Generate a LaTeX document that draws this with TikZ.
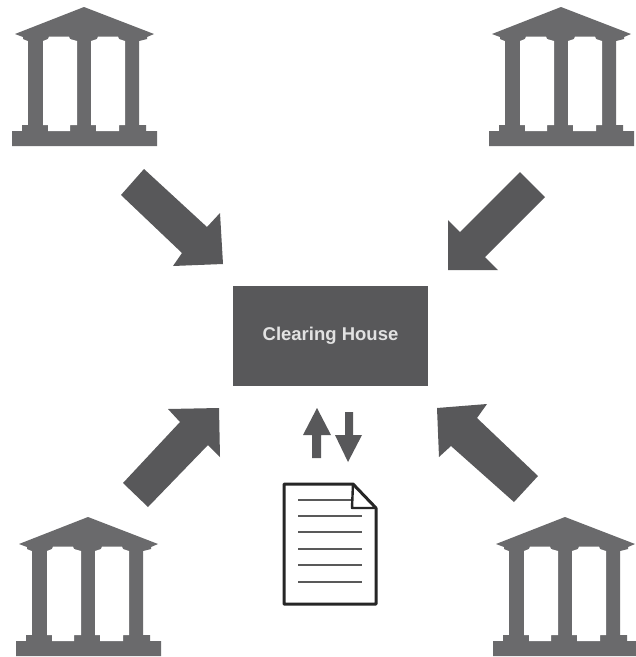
\documentclass[tikz,border=0pt]{standalone}
\usepackage{fontspec}
\setmainfont{Liberation Sans}
\definecolor{bankgray}{HTML}{6A6A6C}
\definecolor{arrowgray}{HTML}{58585A}
\definecolor{textlight}{HTML}{E2E2E2}
\tikzset{
  bankfill/.style={fill=bankgray,draw=none},
  bigarrow/.style={fill=arrowgray,draw=none},
}
\newcommand{\bankat}[2]{%
  \begin{scope}[shift={(#1,#2)}]
    \path[bankfill] (84,7) -- (154,34) -- (147,37) -- (147,39) -- (139,41) -- (139,125)
      -- (146,125) -- (146,131) -- (157,131) -- (157,146) -- (12,146) -- (12,131) -- (22,131)
      -- (22,125) -- (28,125) -- (28,41) -- (23,39) -- (23,37) -- (15,34) -- cycle;
    \path[fill=white] (43,41) -- (43,125) -- (48,125) -- (48,131) -- (70,131) -- (70,125) -- (77,125)
      -- (77,41) -- (70,39) -- (69,36.5) -- (49,36.5) -- (48,39) -- cycle;
    \path[fill=white] (91,41) -- (91,125) -- (96,125) -- (96,131) -- (119,131) -- (119,125) -- (125,125)
      -- (125,41) -- (119,39) -- (118,36.5) -- (98,36.5) -- (97,39) -- cycle;
  \end{scope}}
\begin{document}
\begin{tikzpicture}[x=1pt,y=-1pt]
\useasboundingbox (0,0) rectangle (636,657);
\fill[white] (0,0) rectangle (636,657);
\bankat{0}{0}
\bankat{477}{0}
\bankat{4}{510}
\bankat{481}{510}
% large arrows
\path[bigarrow] (144,169) -- (207,227) -- (220,213) -- (223,264) -- (173,266) -- (182,253) -- (121,195) -- cycle;
\path[bigarrow] (520,172) -- (460,232) -- (448,220) -- (448,270) -- (498,270) -- (485,257) -- (545,197) -- cycle;
\path[bigarrow] (123,483) -- (180,422) -- (168,409) -- (219,408) -- (220,457) -- (208,445) -- (148,507) -- cycle;
\path[bigarrow] (538,476) -- (477,418) -- (487,404) -- (437,408) -- (439,457) -- (451,446) -- (514,502) -- cycle;
% clearing house
\node[fill=arrowgray,minimum width=195pt,minimum height=100pt,inner sep=0pt,text=textlight,font=\bfseries\fontsize{18.5}{20}\selectfont] (house) at (330.5,336) {Clearing House};
% small arrows
\path[bigarrow] (317,408) -- (331,435) -- (321,435) -- (321,458) -- (312,458) -- (312,435) -- (303,435) -- cycle;
\path[bigarrow] (345,412) -- (353,412) -- (353,435) -- (362,435) -- (348,462) -- (335,435) -- (345,435) -- cycle;
% document
\draw[black!85,line width=3pt,line join=round,fill=white] (284,484) -- (353,484) -- (376,508) -- (376,604) -- (284,604) -- cycle;
\draw[black!85,line width=2.4pt,line join=round] (353,484) -- (352,508) -- (376,508);
\foreach \yy/\xe in {500/351,516/362,532/362,549/362,565/362,582/362}
  \draw[black!65,line width=2pt] (298,\yy) -- (\xe,\yy);
\end{tikzpicture}
\end{document}
